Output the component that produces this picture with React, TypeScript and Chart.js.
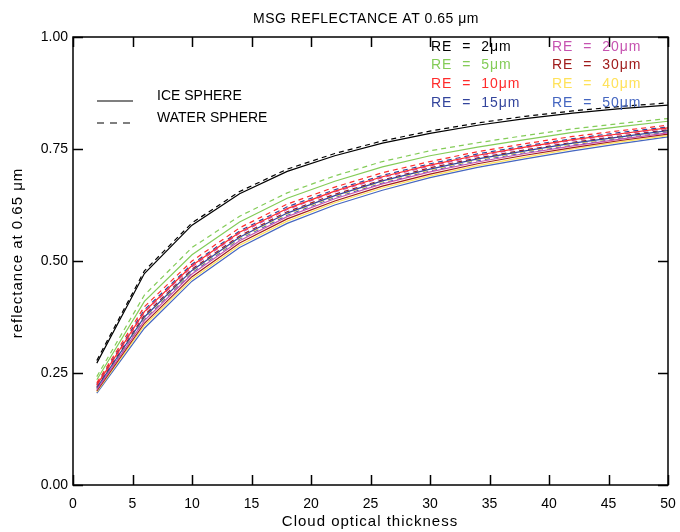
import React, { useEffect, useRef } from "react";
import { Chart, registerables } from "chart.js";

Chart.register(...registerables);

// Cloud optical thickness (x)
const thickness = [2, 6, 10, 14, 18, 22, 26, 30, 34, 38, 42, 46, 50];

// Effective radii
const radii = ["2", "5", "10", "15", "20", "30", "40", "50"];
const radiusColors = ["#000000", "#84cc58", "#ff2b2b", "#33449c", "#c653b0", "#a01c1c", "#ffe25a", "#4566c0"];

// Ice sphere (solid)
const ice2 = [0.272, 0.472, 0.58, 0.65, 0.7, 0.735, 0.763, 0.785, 0.803, 0.818, 0.83, 0.84, 0.848];
const ice5 = [0.235, 0.41, 0.514, 0.587, 0.64, 0.678, 0.71, 0.735, 0.754, 0.771, 0.787, 0.8, 0.812];
const ice10 = [0.223, 0.387, 0.49, 0.564, 0.617, 0.656, 0.688, 0.714, 0.736, 0.754, 0.771, 0.784, 0.797];
const ice15 = [0.217, 0.375, 0.479, 0.553, 0.607, 0.646, 0.679, 0.705, 0.728, 0.746, 0.763, 0.777, 0.791];
const ice20 = [0.213, 0.367, 0.471, 0.545, 0.599, 0.639, 0.672, 0.699, 0.721, 0.74, 0.757, 0.772, 0.786];
const ice30 = [0.21, 0.361, 0.465, 0.54, 0.594, 0.634, 0.667, 0.694, 0.717, 0.736, 0.753, 0.769, 0.783];
const ice40 = [0.208, 0.356, 0.46, 0.535, 0.589, 0.63, 0.663, 0.69, 0.713, 0.732, 0.75, 0.766, 0.78];
const ice50 = [0.205, 0.35, 0.455, 0.53, 0.584, 0.625, 0.658, 0.686, 0.709, 0.728, 0.746, 0.762, 0.777];

// Water sphere (dashed)
const water2 = [0.278, 0.478, 0.585, 0.655, 0.705, 0.74, 0.768, 0.79, 0.808, 0.823, 0.835, 0.845, 0.853];
const water5 = [0.242, 0.424, 0.53, 0.6, 0.652, 0.69, 0.722, 0.746, 0.764, 0.78, 0.795, 0.807, 0.818];
const water10 = [0.228, 0.398, 0.5, 0.574, 0.627, 0.665, 0.697, 0.722, 0.744, 0.762, 0.778, 0.791, 0.803];
const water15 = [0.225, 0.391, 0.493, 0.567, 0.621, 0.659, 0.691, 0.717, 0.739, 0.757, 0.773, 0.787, 0.799];
const water20 = [0.222, 0.385, 0.487, 0.562, 0.615, 0.654, 0.686, 0.712, 0.734, 0.753, 0.769, 0.783, 0.796];
const water30 = [0.219, 0.379, 0.482, 0.556, 0.61, 0.649, 0.681, 0.708, 0.73, 0.748, 0.765, 0.779, 0.793];
const water40 = [0.216, 0.373, 0.477, 0.551, 0.605, 0.644, 0.677, 0.703, 0.726, 0.744, 0.761, 0.776, 0.79];
const water50 = [0.215, 0.37, 0.474, 0.549, 0.602, 0.642, 0.674, 0.701, 0.724, 0.742, 0.759, 0.774, 0.788];

const iceSeries = [ice2, ice5, ice10, ice15, ice20, ice30, ice40, ice50];
const waterSeries = [water2, water5, water10, water15, water20, water30, water40, water50];

const chartTitle = "MSG REFLECTANCE AT 0.65 μm";
const xTitle = "Cloud optical thickness";
const yTitle = "reflectance at 0.65 μm";
const phaseLabels = ["ICE SPHERE", "WATER SPHERE"];

const FONT = "'Liberation Sans', 'DejaVu Sans', sans-serif";

const overlayPlugin = {
  id: "overlay",
  afterDraw(chart: any) {
    const { ctx, chartArea } = chart;
    const { left, right, top, bottom } = chartArea;
    const xs = chart.scales.x;
    const ys = chart.scales.y;
    ctx.save();
    ctx.strokeStyle = "#000";
    ctx.lineWidth = 1.5;
    ctx.setLineDash([]);
    ctx.strokeRect(left, top, right - left, bottom - top);
    const tl = 10;
    ctx.beginPath();
    xs.ticks.forEach((t: any) => {
      const px = Math.round(xs.getPixelForValue(t.value)) + 0.5;
      ctx.moveTo(px, bottom);
      ctx.lineTo(px, bottom - tl);
      ctx.moveTo(px, top);
      ctx.lineTo(px, top + tl);
    });
    ys.ticks.forEach((t: any) => {
      const py = Math.round(ys.getPixelForValue(t.value)) + 0.5;
      ctx.moveTo(left, py);
      ctx.lineTo(left + tl, py);
      ctx.moveTo(right, py);
      ctx.lineTo(right - tl, py);
    });
    ctx.stroke();

    ctx.fillStyle = "#000";
    ctx.textAlign = "center";
    ctx.textBaseline = "middle";
    ctx.font = `14px ${FONT}`;
    ctx.letterSpacing = "0.5px";
    ctx.fillText(chartTitle, 366, 19);
    ctx.font = `15px ${FONT}`;
    ctx.letterSpacing = "1px";
    ctx.fillText(xTitle, 370, 522);
    ctx.save();
    ctx.translate(18, 253);
    ctx.rotate(-Math.PI / 2);
    ctx.fillText(yTitle, 0, 0);
    ctx.restore();

    // phase legend
    ctx.font = `14px ${FONT}`;
    ctx.letterSpacing = "0px";
    ctx.textAlign = "left";
    ctx.lineWidth = 1.2;
    ctx.beginPath();
    ctx.moveTo(97, 101);
    ctx.lineTo(133, 101);
    ctx.stroke();
    ctx.setLineDash([7, 6]);
    ctx.beginPath();
    ctx.moveTo(97, 123);
    ctx.lineTo(133, 123);
    ctx.stroke();
    ctx.setLineDash([]);
    ctx.fillText(phaseLabels[0], 157, 96);
    ctx.fillText(phaseLabels[1], 157, 118);

    // radius legend
    ctx.letterSpacing = "1px";
    radii.forEach((r, i) => {
      const col = Math.floor(i / 4);
      const row = i % 4;
      ctx.fillStyle = radiusColors[i];
      ctx.fillText(`RE  =  ${r}μm`, col === 0 ? 431 : 552, 47 + row * 18.6);
    });
    ctx.restore();
  },
};

export default function App() {
  const ref = useRef<HTMLCanvasElement>(null);
  useEffect(() => {
    document.body.style.margin = "0";
    const datasets: any[] = [];
    radii.forEach((r, i) => {
      datasets.push({
        label: `Ice RE=${r}`,
        data: thickness.map((x, j) => ({ x, y: iceSeries[i][j] })),
        borderColor: radiusColors[i],
        borderWidth: 1.2,
        pointRadius: 0,
        tension: 0,
        fill: false,
      });
    });
    radii.forEach((r, i) => {
      datasets.push({
        label: `Water RE=${r}`,
        data: thickness.map((x, j) => ({ x, y: waterSeries[i][j] })),
        borderColor: radiusColors[i],
        borderWidth: 1.2,
        borderDash: [5, 4],
        pointRadius: 0,
        tension: 0,
        fill: false,
      });
    });
    const chart = new Chart(ref.current!, {
      type: "line",
      data: { datasets },
      plugins: [overlayPlugin],
      options: {
        animation: false,
        responsive: false,
        layout: { padding: { top: 37, right: 12, left: 0, bottom: 0 } },
        plugins: { legend: { display: false }, tooltip: { enabled: false }, title: { display: false } },
        scales: {
          x: {
            type: "linear",
            min: 0,
            max: 50,
            afterFit: (s: any) => {
              s.height = 47;
              s.paddingRight = 0;
              s.paddingLeft = 0;
            },
            ticks: { stepSize: 5, color: "#000", font: { family: FONT, size: 14 }, padding: 11, maxRotation: 0 },
            grid: { display: false, drawTicks: false },
            border: { display: false },
          },
          y: {
            type: "linear",
            min: 0,
            max: 1,
            afterFit: (s: any) => {
              s.width = 73;
              s.paddingTop = 0;
              s.paddingBottom = 0;
            },
            ticks: {
              stepSize: 0.25,
              color: "#000",
              font: { family: FONT, size: 14 },
              padding: 5,
              callback: (v: any) => Number(v).toFixed(2),
            },
            grid: { display: false, drawTicks: false },
            border: { display: false },
          },
        },
      },
    });
    return () => chart.destroy();
  }, []);
  return (
    <div style={{ position: "absolute", left: 0, top: 0, width: 680, height: 532, background: "#fff" }}>
      <canvas ref={ref} width={680} height={532} />
    </div>
  );
}
